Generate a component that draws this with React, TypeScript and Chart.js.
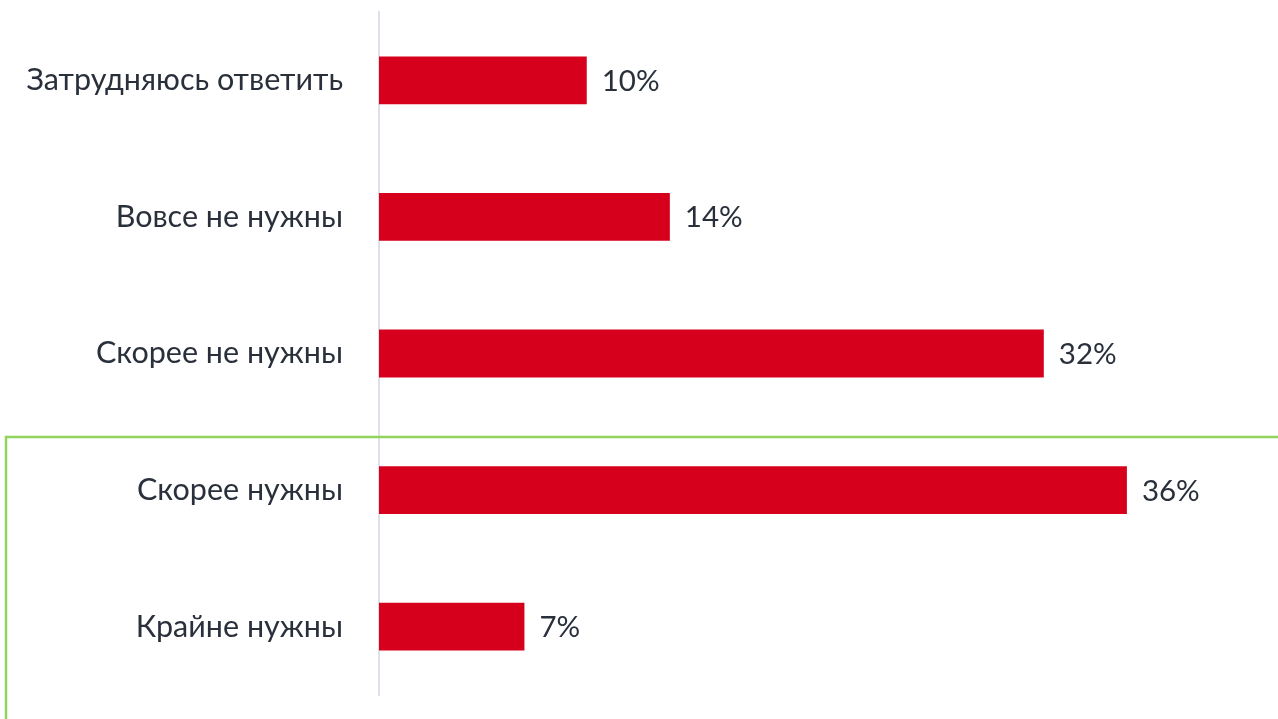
import React, { useEffect, useRef } from "react";
import { Chart, registerables } from "chart.js";

Chart.register(...registerables);

const categories = [
  "Затрудняюсь ответить",
  "Вовсе не нужны",
  "Скорее не нужны",
  "Скорее нужны",
  "Крайне нужны",
];
const values = [10, 14, 32, 36, 7];

const FONT = "Lato, 'Open Sans', sans-serif";
const TEXT_COLOR = "#2a303b";
const BAR_COLOR = "#d6001c";

const valueLabels = {
  id: "valueLabels",
  afterDatasetsDraw(chart: any) {
    const ctx = chart.ctx;
    const meta = chart.getDatasetMeta(0);
    ctx.save();
    ctx.font = `29.5px ${FONT}`;
    ctx.fillStyle = TEXT_COLOR;
    ctx.textAlign = "left";
    ctx.textBaseline = "middle";
    meta.data.forEach((bar: any, i: number) => {
      ctx.fillText(`${values[i]}%`, bar.x + 15, bar.y + 1);
    });
    ctx.restore();
  },
};

const greenFrame = {
  id: "greenFrame",
  afterDraw(chart: any) {
    const ctx = chart.ctx;
    ctx.save();
    ctx.strokeStyle = "#92d35c";
    ctx.lineWidth = 2.5;
    ctx.beginPath();
    ctx.moveTo(6, chart.height + 5);
    ctx.lineTo(6, 437);
    ctx.lineTo(chart.width + 5, 437);
    ctx.stroke();
    ctx.restore();
  },
};

export default function App() {
  const ref = useRef<HTMLCanvasElement | null>(null);

  useEffect(() => {
    document.body.style.margin = "0";
    const chart = new Chart(ref.current!, {
      type: "bar",
      data: {
        labels: categories,
        datasets: [
          {
            data: values,
            backgroundColor: BAR_COLOR,
            borderWidth: 0,
            categoryPercentage: 1,
            barPercentage: 0.35,
          },
        ],
      },
      options: {
        indexAxis: "y",
        animation: false,
        responsive: false,
        maintainAspectRatio: false,
        layout: { padding: { top: 12, bottom: 24, left: 0, right: 68 } },
        plugins: {
          legend: { display: false },
          tooltip: { enabled: false },
        },
        scales: {
          x: {
            display: false,
            min: 0,
            max: 40,
          },
          y: {
            afterFit(scale: any) {
              scale.width = 379;
              scale.paddingTop = 0;
              scale.paddingBottom = 0;
            },
            grid: { display: false, drawTicks: false },
            border: { display: true, color: "#dde1ec", width: 2 },
            ticks: {
              padding: 36,
              color: TEXT_COLOR,
              font: { family: FONT, size: 30.5 },
            },
          },
        },
      },
      plugins: [valueLabels, greenFrame],
    });
    return () => chart.destroy();
  }, []);

  return (
    <div style={{ position: "relative", width: 1278, height: 719 }}>
      <canvas ref={ref} width={1278} height={719} style={{ display: "block" }} />
    </div>
  );
}
